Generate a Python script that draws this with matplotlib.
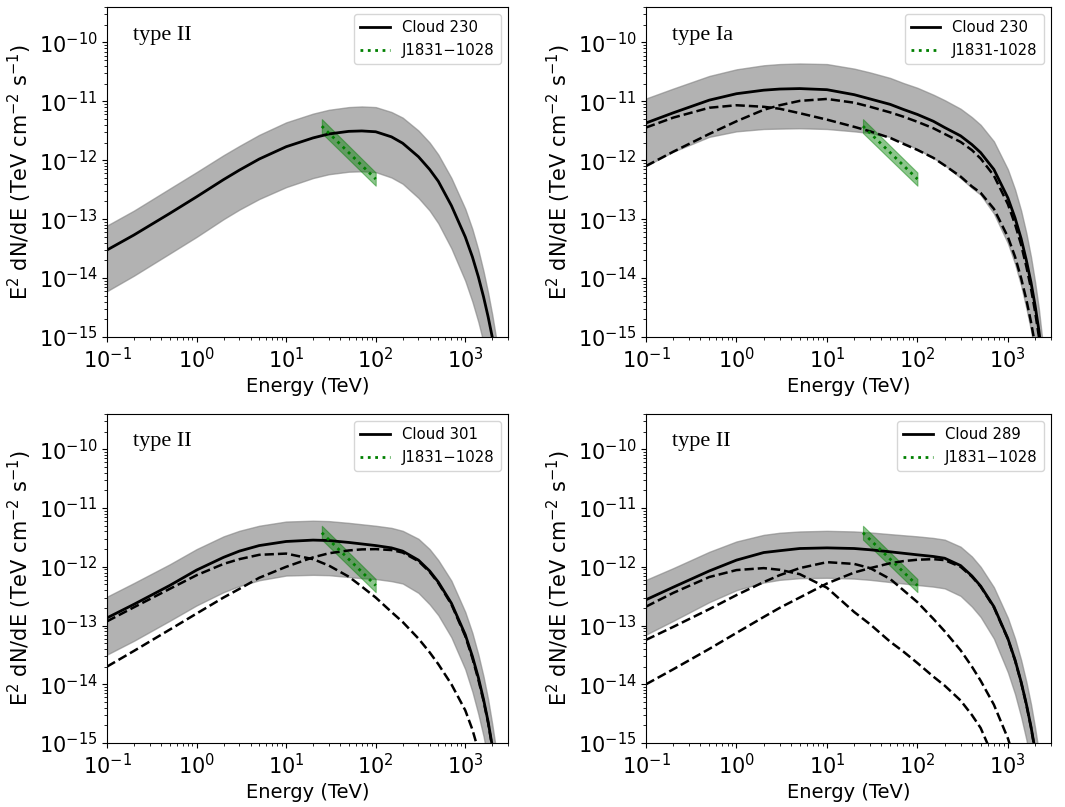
import numpy as np
import matplotlib
matplotlib.use('Agg')
import matplotlib.pyplot as plt
from matplotlib.lines import Line2D

# energy grid (TeV) shared by all model curves
energy = [0.1, 0.2, 0.5, 1, 2, 3, 5, 10, 20, 30, 50, 70, 100, 150, 200, 300, 400, 500, 700,
          1000, 1200, 1400, 1600, 1800, 2000, 2200, 2400]

# --- panel 1: type II, cloud 230 ---
p1_total = [3.0e-14, 5.4e-14, 1.25e-13, 2.4e-13, 4.7e-13, 6.8e-13, 1.05e-12, 1.7e-12, 2.4e-12, 2.8e-12,
            3.1e-12, 3.15e-12, 3.05e-12, 2.5e-12, 1.95e-12, 1.15e-12, 7e-13, 4.4e-13, 1.7e-13,
            5e-14, 2.3e-14, 1.05e-14, 4.8e-15, 2.2e-15, 1.0e-15, 4.5e-16, 2e-16]
p1_upper = [7.8e-14, 1.4e-13, 3.3e-13, 6.3e-13, 1.22e-12, 1.75e-12, 2.7e-12, 4.4e-12, 6.2e-12, 7.2e-12,
            8.0e-12, 8.2e-12, 8.0e-12, 6.6e-12, 5.3e-12, 3.2e-12, 2.0e-12, 1.25e-12, 5e-13,
            1.5e-13, 6.8e-14, 3.0e-14, 1.3e-14, 5.6e-15, 2.4e-15, 1.0e-15, 4e-16]
p1_lower = [6e-15, 1.1e-14, 2.6e-14, 5e-14, 1e-13, 1.45e-13, 2.2e-13, 3.5e-13, 5e-13, 5.8e-13,
            6.4e-13, 6.5e-13, 6.3e-13, 5.1e-13, 4e-13, 2.3e-13, 1.4e-13, 8.5e-14, 3.2e-14,
            9e-15, 4e-15, 1.8e-15, 8e-16, 3.5e-16, 1.5e-16, 6e-17, 2.5e-17]

# --- panel 2: type Ia, cloud 230 ---
p2_total = [4.3e-12, 6.4e-12, 1.05e-11, 1.35e-11, 1.55e-11, 1.62e-11, 1.65e-11, 1.58e-11, 1.3e-11, 1.1e-11,
            8.9e-12, 7.3e-12, 6.0e-12, 4.6e-12, 3.6e-12, 2.6e-12, 1.85e-12, 1.35e-12, 7e-13,
            2.3e-13, 1.05e-13, 4.7e-14, 2e-14, 8.5e-15, 3.4e-15, 1.3e-15, 4.5e-16]
p2_comp_a = [3.6e-12, 5.3e-12, 7.8e-12, 8.6e-12, 8.1e-12, 7.5e-12, 6.3e-12, 4.9e-12, 3.7e-12, 3.1e-12,
             2.4e-12, 1.9e-12, 1.5e-12, 1.1e-12, 8.2e-13, 5.3e-13, 3.6e-13, 2.8e-13, 1.5e-13,
             5e-14, 2.3e-14, 1e-14, 4.3e-15, 1.8e-15, 7.3e-16, 2.8e-16, 1e-16]
p2_comp_b = [8e-13, 1.4e-12, 2.8e-12, 4.6e-12, 7.2e-12, 8.6e-12, 1.02e-11, 1.1e-11, 9.5e-12, 8.1e-12,
             6.5e-12, 5.5e-12, 4.5e-12, 3.5e-12, 2.8e-12, 2.05e-12, 1.49e-12, 1.07e-12, 5.5e-13,
             1.8e-13, 8.2e-14, 3.7e-14, 1.57e-14, 6.7e-15, 2.67e-15, 1.02e-15, 3.5e-16]
p2_upper = [1.12e-11, 1.65e-11, 2.7e-11, 3.5e-11, 4.1e-11, 4.3e-11, 4.4e-11, 4.3e-11, 3.6e-11, 3.1e-11,
            2.5e-11, 2.05e-11, 1.7e-11, 1.3e-11, 1.05e-11, 7.5e-12, 5.4e-12, 4.0e-12, 2.1e-12,
            7e-13, 3.2e-13, 1.4e-13, 5.8e-14, 2.3e-14, 8.5e-15, 3e-15, 9e-16]
p2_lower = [8e-13, 1.4e-12, 2.5e-12, 3.1e-12, 3.4e-12, 3.45e-12, 3.5e-12, 3.4e-12, 3.1e-12, 2.9e-12,
            2.5e-12, 2.0e-12, 1.55e-12, 1.1e-12, 8.3e-13, 5e-13, 3.4e-13, 2.6e-13, 1.25e-13,
            3.9e-14, 1.75e-14, 7.5e-15, 3.1e-15, 1.3e-15, 5e-16, 1.9e-16, 7e-17]

# --- panel 3: type II, cloud 301 ---
p3_total = [1.35e-13, 2.3e-13, 4.8e-13, 8.8e-13, 1.45e-12, 1.85e-12, 2.3e-12, 2.7e-12, 2.85e-12, 2.8e-12,
            2.6e-12, 2.45e-12, 2.3e-12, 2.1e-12, 1.85e-12, 1.3e-12, 8.5e-13, 5.5e-13, 2.4e-13,
            7e-14, 3e-14, 1.3e-14, 5.5e-15, 2.3e-15, 9e-16, 3.5e-16, 1.3e-16]
p3_comp_a = [1.18e-13, 2.05e-13, 4.2e-13, 7.2e-13, 1.12e-12, 1.35e-12, 1.6e-12, 1.68e-12, 1.35e-12, 1.05e-12,
             6.8e-13, 4.6e-13, 3e-13, 1.7e-13, 1.15e-13, 6e-14, 3.5e-14, 2.2e-14, 1e-14,
             3.6e-15, 1.7e-15, 7.5e-16, 3e-16, 1e-16, 4e-17, 1.5e-17, 5e-18]
p3_comp_b = [2e-14, 3.7e-14, 8.5e-14, 1.6e-13, 3e-13, 4.2e-13, 6.5e-13, 1.0e-12, 1.45e-12, 1.7e-12,
             1.9e-12, 1.98e-12, 2.0e-12, 1.93e-12, 1.75e-12, 1.25e-12, 8.2e-13, 5.3e-13, 2.3e-13,
             6.6e-14, 2.8e-14, 1.2e-14, 5.2e-15, 2.2e-15, 8.5e-16, 3.3e-16, 1.2e-16]
p3_upper = [3.1e-13, 5.3e-13, 1.1e-12, 2.0e-12, 3.3e-12, 4.1e-12, 5.0e-12, 5.9e-12, 6.1e-12, 6.0e-12,
            5.6e-12, 5.3e-12, 5.0e-12, 4.6e-12, 4.1e-12, 3.0e-12, 2.0e-12, 1.3e-12, 5.8e-13,
            1.7e-13, 7.5e-14, 3.2e-14, 1.35e-14, 5.5e-15, 2.1e-15, 8e-16, 3e-16]
p3_lower = [3.2e-14, 5.5e-14, 1.2e-13, 2.2e-13, 3.7e-13, 4.7e-13, 5.9e-13, 7.1e-13, 7.3e-13, 7.2e-13,
            6.7e-13, 6.4e-13, 6.2e-13, 5.7e-13, 5.2e-13, 3.6e-13, 2.3e-13, 1.5e-13, 6.3e-14,
            1.8e-14, 7.5e-15, 3.1e-15, 1.3e-15, 5e-16, 2e-16, 8e-17, 3e-17]

# --- panel 4: type II, cloud 289 ---
p4_total = [2.75e-13, 4.5e-13, 8.5e-13, 1.3e-12, 1.75e-12, 1.88e-12, 2.05e-12, 2.1e-12, 2.05e-12, 1.95e-12,
            1.8e-12, 1.7e-12, 1.6e-12, 1.5e-12, 1.4e-12, 1.05e-12, 7e-13, 4.7e-13, 2.1e-13,
            6e-14, 2.6e-14, 1.1e-14, 4.6e-15, 1.9e-15, 7.5e-16, 3e-16, 1.1e-16]
p4_comp_a = [2.1e-13, 3.6e-13, 6.7e-13, 8.8e-13, 9.5e-13, 8.9e-13, 7.5e-13, 4.4e-13, 1.7e-13, 1.05e-13,
             5.3e-14, 3.6e-14, 2.3e-14, 1.35e-14, 9.5e-15, 5.3e-15, 3e-15, 1.8e-15, 5.5e-16,
             9e-17, 3e-17, 1e-17, 4e-18, 1e-18, 5e-19, 2e-19, 1e-19]
p4_comp_b = [5.7e-14, 9.5e-14, 1.9e-13, 3.3e-13, 5.5e-13, 7.2e-13, 9.5e-13, 1.2e-12, 1.12e-12, 9.5e-13,
             6.2e-13, 4e-13, 2.5e-13, 1.3e-13, 8e-14, 3.8e-14, 2e-14, 1.15e-14, 4.5e-15,
             1.2e-15, 5e-16, 2e-16, 8e-17, 3e-17, 1e-17, 4e-18, 1e-18]
p4_comp_c = [1e-14, 1.8e-14, 4e-14, 7.5e-14, 1.4e-13, 2e-13, 3e-13, 5.2e-13, 8e-13, 9.5e-13,
             1.15e-12, 1.25e-12, 1.32e-12, 1.35e-12, 1.3e-12, 1.0e-12, 6.8e-13, 4.6e-13, 2.05e-13,
             5.9e-14, 2.55e-14, 1.08e-14, 4.5e-15, 1.85e-15, 7.3e-16, 2.9e-16, 1.1e-16]
p4_upper = [6e-13, 9.5e-13, 1.8e-12, 2.7e-12, 3.5e-12, 3.8e-12, 4e-12, 4.1e-12, 4e-12, 3.85e-12,
            3.6e-12, 3.45e-12, 3.3e-12, 3.1e-12, 2.9e-12, 2.2e-12, 1.5e-12, 1.0e-12, 4.5e-13,
            1.35e-13, 6e-14, 2.6e-14, 1.1e-14, 4.6e-15, 1.8e-15, 7e-16, 2.7e-16]
p4_lower = [7e-14, 1.2e-13, 2.5e-13, 4e-13, 5.4e-13, 6e-13, 6.4e-13, 6.5e-13, 6.3e-13, 6e-13,
            5.5e-13, 5.2e-13, 4.9e-13, 4.6e-13, 4.3e-13, 3.2e-13, 2.1e-13, 1.4e-13, 6e-14,
            1.6e-14, 6.8e-15, 2.8e-15, 1.15e-15, 4.5e-16, 1.8e-16, 7e-17, 3e-17]

# LHAASO source band
src_energy = [25, 100]
src_flux = [3.8e-12, 4.8e-13]
src_upper = [5.0e-12, 6.2e-13]
src_lower = [2.9e-12, 3.7e-13]

type_labels = ['type II', 'type Ia', 'type II', 'type II']
cloud_labels = ['Cloud 230', 'Cloud 230', 'Cloud 301', 'Cloud 289']
source_labels = ['J1831\u22121028', 'J1831-1028', 'J1831\u22121028', 'J1831\u22121028']

panels = [
    (p1_total, p1_upper, p1_lower, []),
    (p2_total, p2_upper, p2_lower, [p2_comp_a, p2_comp_b]),
    (p3_total, p3_upper, p3_lower, [p3_comp_a, p3_comp_b]),
    (p4_total, p4_upper, p4_lower, [p4_comp_a, p4_comp_b, p4_comp_c]),
]

fig = plt.figure(figsize=(10.65, 8.07), dpi=100)
rects = [[0.1005, 0.5824, 0.3765, 0.4089],
         [0.6066, 0.5824, 0.3803, 0.4089],
         [0.1005, 0.0793, 0.3765, 0.4077],
         [0.6066, 0.0793, 0.3803, 0.4077]]

for idx, (total, upper, lower, comps) in enumerate(panels):
    ax = fig.add_axes(rects[idx])
    ax.fill_between(energy, lower, upper, color='gray', alpha=0.6, lw=1)
    for comp in comps:
        ax.plot(energy, comp, color='black', ls='--', lw=1.8)
    ax.plot(energy, total, color='black', lw=2)

    ax.fill_between(src_energy, src_lower, src_upper, color='green', alpha=0.45, lw=0.8)
    ax.plot(src_energy, src_flux, color='green', ls=':', lw=2)

    ax.set_xscale('log')
    ax.set_yscale('log')
    ax.set_xlim(0.1, 3000)
    ax.set_ylim(1e-15, 4e-10)
    ax.set_xlabel('Energy (TeV)', fontsize=14)
    ax.set_ylabel(r'E$^2$ dN/dE (TeV cm$^{-2}$ s$^{-1}$)', fontsize=15, labelpad=3)
    ax.tick_params(axis='both', which='major', labelsize=15)

    ax.text(0.065, 0.915, type_labels[idx], transform=ax.transAxes, fontsize=16,
            family='Liberation Serif', va='center', ha='left')

    handles = [Line2D([], [], color='black', lw=2),
               Line2D([], [], color='green', ls=':', lw=2)]
    ax.legend(handles, [cloud_labels[idx], source_labels[idx]], loc='upper right', fontsize=10.7)

fig.savefig('out.png', dpi=100)
